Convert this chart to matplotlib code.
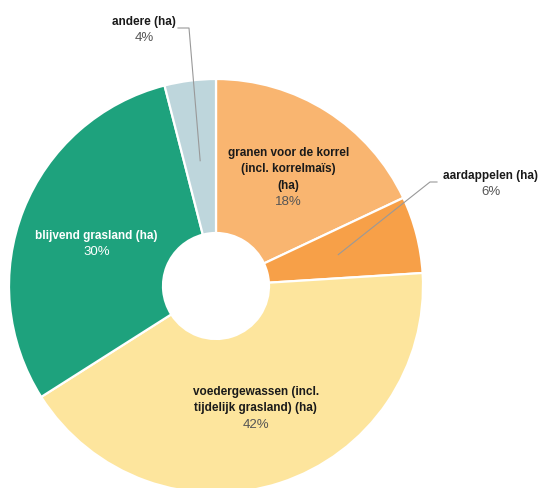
import numpy as np
import matplotlib
matplotlib.use("Agg")
import matplotlib.pyplot as plt

# -------------------------
# DATA
# -------------------------
labels = [
    "granen voor de korrel\n(incl. korrelmaïs)\n(ha)",
    "aardappelen (ha)",
    "voedergewassen (incl.\ntijdelijk grasland) (ha)",
    "blijvend grasland (ha)",
    "andere (ha)",
]
shares = [18, 6, 42, 30, 4]
colors = ["#F9B570", "#F7A048", "#FDE59D", "#1EA27D", "#BED6DC"]
inside = [True, False, True, True, False]
text_colors = ["#1a1a1a", "#1a1a1a", "#1a1a1a", "#ffffff", "#1a1a1a"]
pct_colors = ["#555555", "#555555", "#555555", "#ffffff", "#555555"]

# -------------------------
# LAYOUT (pixels of a 540x488 canvas)
# -------------------------
W, H = 540, 488
CX, CY, R = 216, 286, 207
HOLE = 53

def px(x, y):
    return ((x - CX) / R, (CY - y) / R)

plt.rcParams["font.family"] = ["Liberation Sans", "DejaVu Sans"]
FS_NAME = 8.5
FS_PCT = 9.5
LH = 16.5 / R  # line height in data units

# small nudges for inside labels (pixels, +x right, +y down)
nudge = {0: (4, 0), 2: (0, 0), 3: (0, 5)}

fig = plt.figure(figsize=(W / 100, H / 100), dpi=100)
ax = fig.add_axes([0, 0, 1, 1])

wedges, _ = ax.pie(
    shares, colors=colors, startangle=90, counterclock=False, radius=1,
    wedgeprops=dict(width=1 - HOLE / R, edgecolor="white", linewidth=1.6),
)
ax.set_aspect("auto")
ax.set_xlim(-CX / R, (W - CX) / R)
ax.set_ylim(-(H - CY) / R, CY / R)
ax.axis("off")

def draw_block(x, y, name, pct, tc, pc):
    lines = name.split("\n")
    n = len(lines) + 1
    for i, line in enumerate(lines):
        yy = y + ((n - 1) / 2 - i) * LH
        ax.text(x, yy, line, ha="center", va="center", fontsize=FS_NAME,
                fontweight="bold", color=tc)
    yy = y - (n - 1) / 2 * LH
    ax.text(x, yy, pct, ha="center", va="center", fontsize=FS_PCT, color=pc)

# outside label placement (text centre, elbow, line start) in pixels
outside_pos = {1: ((491, 184), (430, 182), (437, 182)),
               4: ((144, 30), (189, 28), (178, 28))}

for i, w in enumerate(wedges):
    mid = np.deg2rad((w.theta1 + w.theta2) / 2)
    pct = f"{shares[i]}%"
    if inside[i]:
        r = 0.62
        dx, dy = nudge[i]
        draw_block(r * np.cos(mid) + dx / R, r * np.sin(mid) - dy / R,
                   labels[i], pct, text_colors[i], pct_colors[i])
    else:
        r = 0.61
        tip = (r * np.cos(mid), r * np.sin(mid))
        (tx, ty), elbow, start = outside_pos[i]
        ex, ey = px(*elbow)
        sx, sy = px(*start)
        ax.plot([sx, ex, tip[0]], [sy, ey, tip[1]], color="#999999", lw=0.8)
        bx, by = px(tx, ty)
        draw_block(bx, by, labels[i], pct, text_colors[i], pct_colors[i])

fig.savefig("out.png", dpi=100)
